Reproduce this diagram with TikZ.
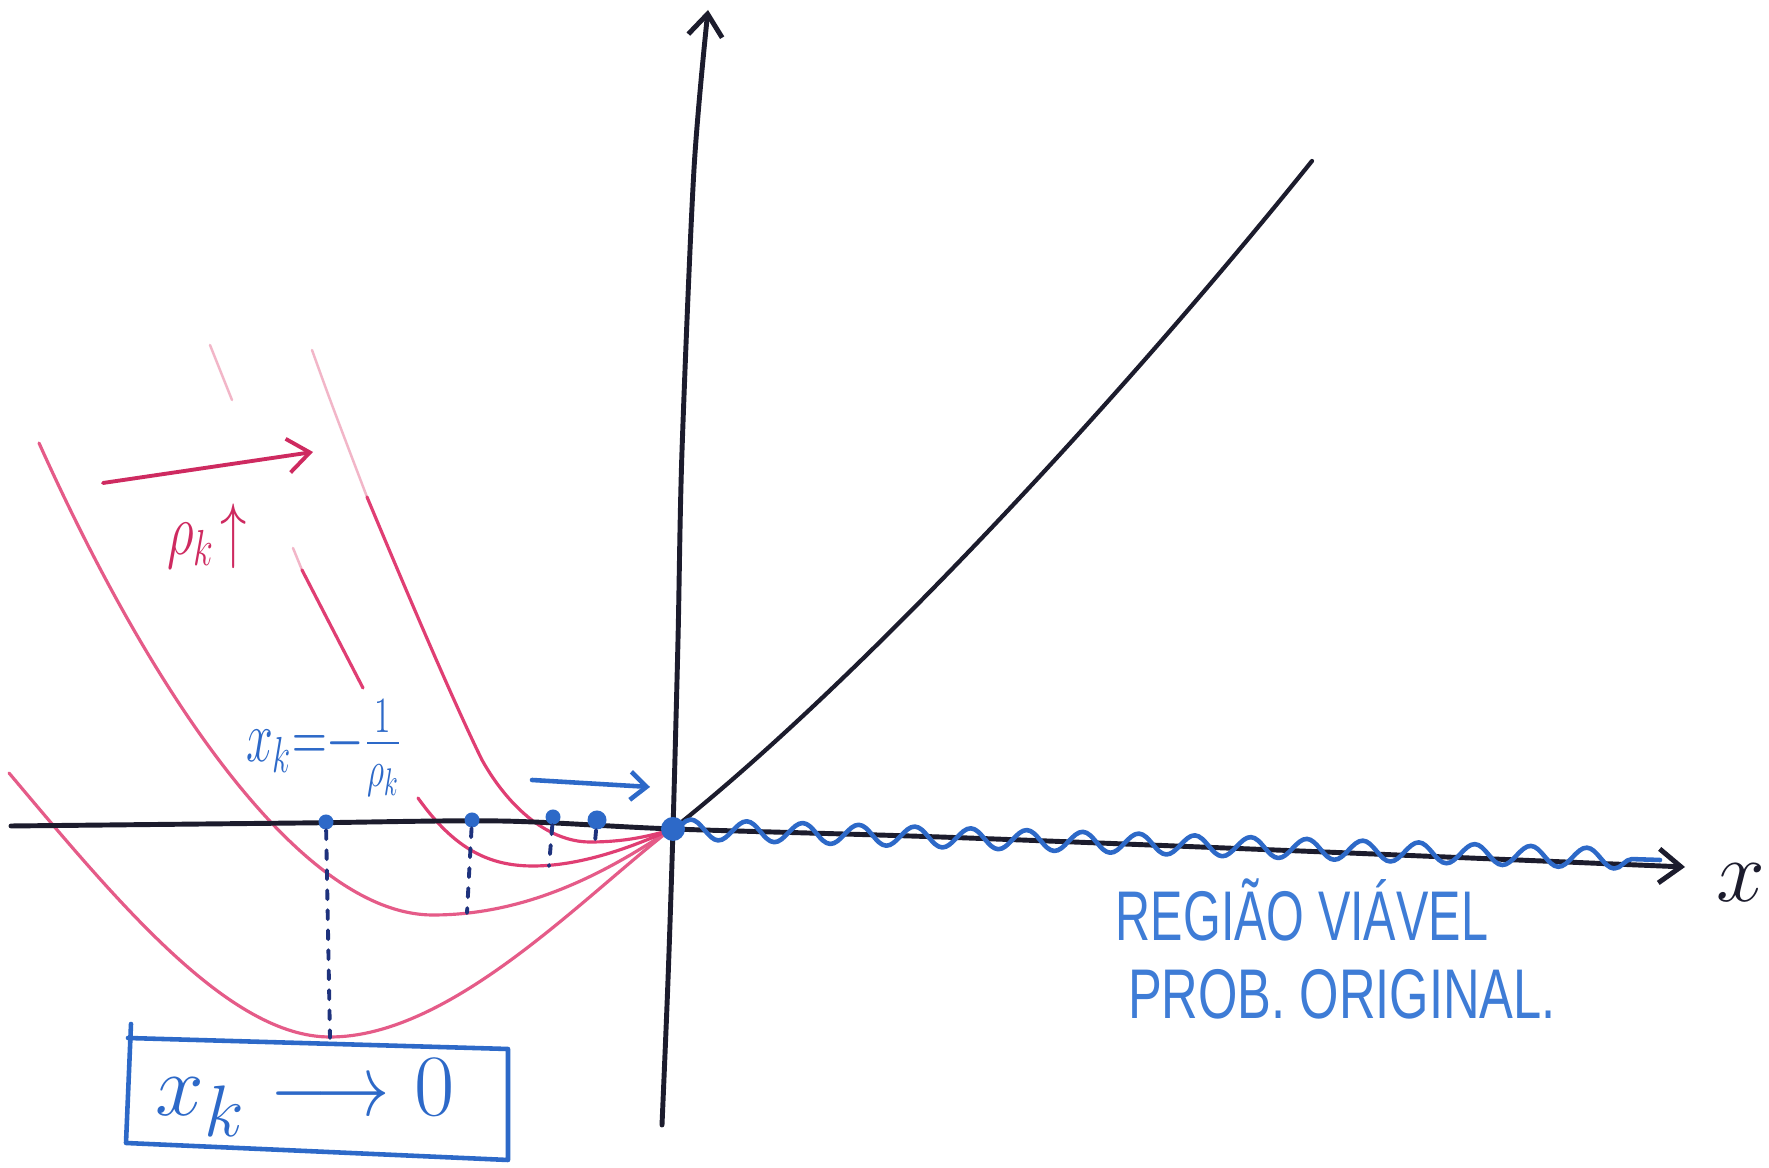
\documentclass[tikz,border=0pt]{standalone}
\usepackage{fontspec}
\usepackage{graphicx}
\usetikzlibrary{decorations.pathmorphing,arrows.meta}
\newfontfamily\handfont{Liberation Sans}
\definecolor{ink}{RGB}{28,28,45}
\definecolor{pinkc}{RGB}{224,62,115}
\definecolor{pinkd}{RGB}{206,42,96}
\definecolor{pinkf}{RGB}{242,182,200}
\definecolor{bluec}{RGB}{45,105,200}
\definecolor{bluet}{RGB}{62,124,214}
\definecolor{navy}{RGB}{30,50,125}
\begin{document}
\begin{tikzpicture}[x=0.01cm,y=-0.01cm, line cap=round, line join=round,
  axisline/.style={ink, line width=1.4pt},
  pinkcurve/.style={pinkc, line width=0.9pt},
  faintcurve/.style={pinkf, line width=0.7pt},
  dotnode/.style={circle, fill=bluec, inner sep=0pt, minimum size=0.15cm},
  proj/.style={navy, line width=1.1pt, dash pattern=on 0.09cm off 0.11cm},
  handtext/.style={bluet, font=\handfont\fontsize{20}{24}\selectfont, inner sep=0pt},
  barb/.style={-{Straight Barb[length=0.22cm,width=0.34cm]}},
]
\useasboundingbox (0,0) rectangle (1769,1168);
\fill[white] (0,0) rectangle (1769,1168);

% pink curves
\draw[pinkcurve, pinkc!85] (9,773) .. controls (120,905) and (230,1037) .. (330,1037) .. controls (450,1037) and (580,900) .. (670,830);
\draw[pinkcurve, pinkc!85] (39,443) .. controls (150,690) and (300,915) .. (433,915) .. controls (530,915) and (610,870) .. (670,830);
\draw[faintcurve] (210,345) -- (232,400);
\draw[faintcurve] (293,548) -- (302,570);
\draw[pinkcurve] (302,570) -- (363,688);
\draw[pinkcurve] (418,798) .. controls (455,850) and (490,866) .. (533,866) .. controls (580,866) and (630,848) .. (670,830);
\draw[faintcurve] (312,350) .. controls (330,400) .. (367,497);
\draw[pinkcurve] (367,497) .. controls (410,600) and (455,705) .. (482,760) .. controls (510,810) and (550,842) .. (590,842) .. controls (625,842) and (650,836) .. (670,830);

% axes
\draw[axisline, barb] plot[smooth] coordinates {(11,826) (300,823) (500,821) (673,829) (940,837) (1300,851) (1685,867)};
\draw[axisline, barb] plot[smooth] coordinates {(662,1125) (668,980) (673,829) (678,640) (682,451) (694,169) (708,10)};
\draw[axisline, line width=1.2pt] (673,829) .. controls (860,680) and (1120,400) .. (1312,161);

% origin and wave
\node[dotnode, minimum size=0.24cm] (O) at (673,829) {};
\coordinate (wend) at (1660,860);
\draw[bluec, line width=1.3pt, decorate, decoration={snake, segment length=0.56cm, amplitude=0.1cm}] (O.center) -- (wend);

% dots and projections
\node[dotnode] (d1) at (326,822) {};
\node[dotnode] (d2) at (472,820) {};
\node[dotnode] (d3) at (553,817) {};
\node[dotnode, minimum size=0.19cm] (d4) at (597,820) {};
\coordinate (m1) at (330,1038);
\coordinate (m2) at (467,913);
\coordinate (m3) at (549,866);
\coordinate (m4) at (595,842);
\draw[proj] (d1) -- (m1);
\draw[proj] (d2) -- (m2);
\draw[proj] (d3) -- (m3);
\draw[proj] (d4) -- (m4);

% arrows
\coordinate (pa1) at (103,483);
\coordinate (pa2) at (313,452);
\draw[pinkd, line width=1.1pt, barb] (pa1) -- (pa2);
\coordinate (ba1) at (532,780);
\coordinate (ba2) at (650,787);
\draw[bluec, line width=1.3pt, -{Straight Barb[length=0.16cm,width=0.28cm]}] (ba1) -- (ba2);

% labels
\node[pinkd, font=\fontsize{20}{24}\selectfont] (rho) at (207,536) {\scalebox{0.72}[1]{$\rho_k\!\uparrow$}};
\node[bluec, font=\fontsize{21}{24}\selectfont, inner sep=0pt] (xk) at (324,748) {\scalebox{0.66}[1]{$x_k{=}{-}\frac{1}{\rho_k}$}};
\node[ink, font=\fontsize{26}{30}\selectfont] (xl) at (1741,883) {$x$};
\node[handtext] (t1) at (1302,910) {\scalebox{0.69}[1]{REGIÃO VIÁVEL}};
\node[handtext] (t2) at (1342,994) {\scalebox{0.72}[1]{PROB. ORIGINAL.}};

% result box
\coordinate (b1) at (128,1038);
\coordinate (b2) at (508,1049);
\coordinate (b3) at (508,1160);
\coordinate (b4) at (126,1143);
\draw[bluec, line width=1.3pt] (b1) -- (b2) -- (b3) -- (b4) -- (131,1024);
\node[bluec, font=\fontsize{31}{34}\selectfont] (res) at (305,1098) {$x_k\mathrel{\scalebox{0.85}[1]{$\longrightarrow$}}0$};
\end{tikzpicture}
\end{document}
